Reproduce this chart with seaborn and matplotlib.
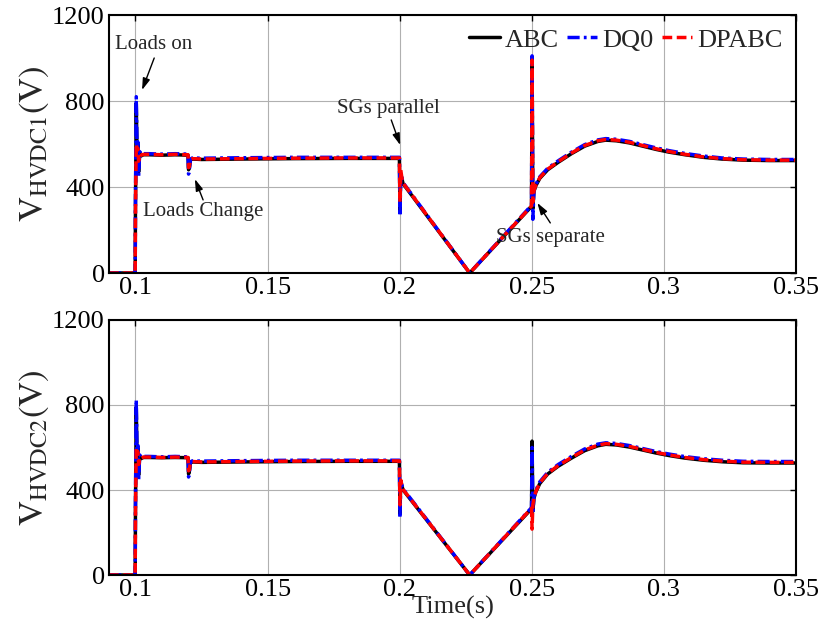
import pandas as pd
import matplotlib
matplotlib.use("Agg")
import matplotlib.pyplot as plt
import seaborn as sns

# time points (s), shared by both panels
t = [0.090, 0.0999, 0.1000, 0.1003, 0.1006, 0.1009, 0.1012, 0.1016, 0.1022, 0.1030,
     0.1050, 0.1100, 0.1150, 0.1199, 0.1201, 0.1204, 0.1208, 0.1215, 0.1250, 0.1400,
     0.1600, 0.1800, 0.1999, 0.2001, 0.2004, 0.2008, 0.2013, 0.2265, 0.2499, 0.2501,
     0.2504, 0.2508, 0.2515, 0.2530, 0.2560, 0.2600, 0.2650, 0.2700, 0.2750, 0.2780,
     0.2820, 0.2870, 0.2920, 0.2970, 0.3020, 0.3080, 0.3150, 0.3220, 0.3300, 0.3400,
     0.3500]

# V_HVDC1
abc_1 = [0, 0, 300, 790, 560, 600, 470, 560, 545, 550,
         550, 548, 550, 548, 480, 490, 525, 530, 528, 530,
         532, 533, 533, 290, 460, 440, 415, 0, 310, 1000,
         300, 380, 405, 440, 480, 515, 555, 590, 612, 618,
         615, 605, 590, 575, 562, 550, 538, 530, 525, 523,
         523]
dq0_1 = [0, 0, 320, 820, 580, 610, 450, 565, 552, 555,
         555, 553, 555, 553, 460, 480, 530, 535, 534, 536,
         538, 538, 538, 265, 450, 445, 420, 0, 315, 1010,
         250, 385, 412, 447, 487, 522, 562, 597, 619, 625,
         622, 612, 597, 582, 569, 556, 544, 535, 530, 528,
         528]
dpabc_1 = [0, 0, 280, 600, 570, 580, 520, 555, 548, 552,
           552, 550, 552, 550, 490, 495, 528, 532, 530, 532,
           534, 535, 535, 330, 480, 445, 418, 0, 312, 990,
           330, 382, 408, 443, 483, 518, 558, 593, 615, 621,
           618, 608, 593, 578, 565, 552, 540, 532, 527, 525,
           525]

# V_HVDC2
abc_2 = [0, 0, 300, 790, 560, 600, 470, 560, 548, 553,
         553, 552, 553, 552, 475, 490, 527, 532, 530, 532,
         534, 535, 535, 290, 440, 420, 400, 0, 312, 630,
         300, 360, 390, 430, 475, 512, 550, 585, 608, 615,
         612, 602, 588, 574, 562, 550, 540, 533, 528, 527,
         527]
dq0_2 = [0, 0, 320, 825, 580, 610, 447, 565, 555, 558,
         558, 556, 558, 556, 461, 480, 532, 537, 536, 538,
         540, 540, 540, 268, 430, 425, 405, 0, 317, 600,
         290, 368, 398, 438, 483, 520, 558, 593, 616, 622,
         619, 609, 595, 581, 569, 557, 547, 540, 535, 534,
         534]
dpabc_2 = [0, 0, 280, 600, 570, 580, 520, 555, 550, 555,
           555, 553, 555, 553, 490, 495, 530, 534, 532, 534,
           536, 537, 537, 330, 447, 425, 402, 0, 315, 216,
           330, 362, 392, 433, 478, 515, 553, 588, 611, 618,
           615, 605, 591, 577, 565, 553, 543, 536, 531, 530,
           530]

models = ["ABC", "DQ0", "DPABC"]
colors = {"ABC": "black", "DQ0": "blue", "DPABC": "red"}
dashes = {"ABC": "", "DQ0": (3.5, 1.2, 0.8, 1.2), "DPABC": (2.8, 1.3)}

# annotation text (label, text pos, arrow tail, arrow head) on the top panel
notes = [("Loads on", (0.107, 1065), (0.1071, 1000), (0.1025, 851)),
         ("Loads Change", (0.1256, 284), (0.1256, 340), (0.1225, 437)),
         ("SGs parallel", (0.1957, 767), (0.1968, 712), (0.2002, 595)),
         ("SGs separate", (0.2570, 167), (0.2570, 233), (0.2521, 326))]


def make_df(series):
    parts = []
    for name, vals in zip(models, series):
        parts.append(pd.DataFrame({"t": t, "v": vals, "model": name}))
    return pd.concat(parts, ignore_index=True)


sns.set_style("white")
plt.rcParams["font.family"] = ["Liberation Serif", "DejaVu Serif"]
plt.rcParams["mathtext.fontset"] = "stix"

fig = plt.figure(figsize=(8.21, 6.33), dpi=100)
ax1 = fig.add_axes([0.1328, 0.5687, 0.8368, 0.4076])
ax2 = fig.add_axes([0.1328, 0.0916, 0.8368, 0.4029])

panels = [(ax1, [abc_1, dq0_1, dpabc_1], r"$\mathrm{V_{HVDC1}(V)}$"),
          (ax2, [abc_2, dq0_2, dpabc_2], r"$\mathrm{V_{HVDC2}(V)}$")]

for ax, series, ylab in panels:
    sns.lineplot(data=make_df(series), x="t", y="v", hue="model", style="model",
                 palette=colors, dashes=dashes, hue_order=models, style_order=models,
                 estimator=None, sort=False, linewidth=2.5, ax=ax)
    ax.set_xlim(0.09, 0.35)
    ax.set_ylim(0, 1200)
    ax.set_xticks([0.1, 0.15, 0.2, 0.25, 0.3, 0.35])
    ax.set_xticklabels(["0.1", "0.15", "0.2", "0.25", "0.3", "0.35"])
    ax.set_yticks([0, 400, 800, 1200])
    ax.grid(True, color="#b0b0b0", linewidth=0.8)
    ax.set_axisbelow(True)
    ax.tick_params(direction="in", top=True, right=True, length=4, labelsize=19,
                   width=1, colors="black", pad=3)
    for s in ax.spines.values():
        s.set_color("black")
        s.set_linewidth(1.5)
    ax.set_ylabel(ylab, fontsize=25, labelpad=1)
    ax.set_xlabel("")
    ax.get_legend().remove()

ax2.set_xlabel("Time(s)", fontsize=19, labelpad=-4)

handles, labels = ax1.get_legend_handles_labels()
ax1.legend(handles, labels, loc="upper right", ncol=3, frameon=False, fontsize=19,
           handlelength=1.15, handletextpad=0.2, columnspacing=0.3,
           borderaxespad=0.1, borderpad=0.4)

arrow = dict(arrowstyle="-|>,head_length=0.7,head_width=0.22", color="black", lw=1,
             shrinkA=0, shrinkB=0)
for label, txt, tail, head in notes:
    ax1.text(txt[0], txt[1], label, fontsize=15, ha="center", va="center")
    ax1.annotate("", xy=head, xytext=tail, arrowprops=arrow)

fig.savefig("out.png", dpi=100)
